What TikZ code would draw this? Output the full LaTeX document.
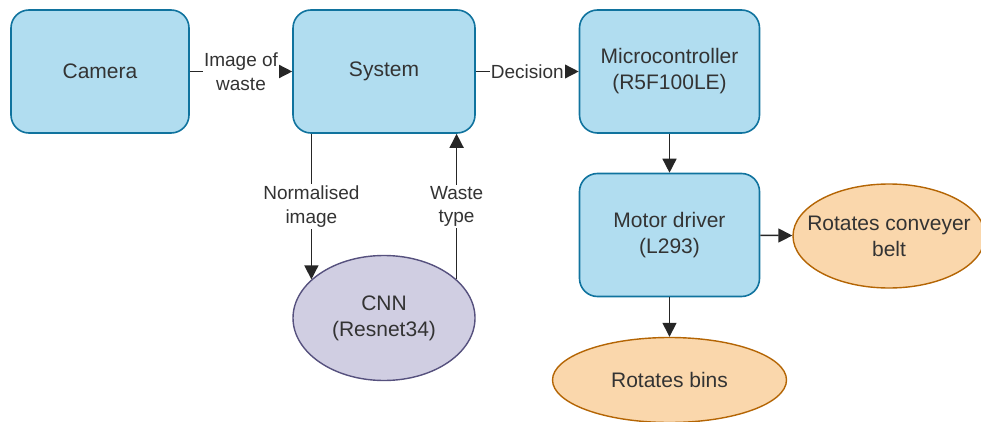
\documentclass[tikz,border=0pt]{standalone}
\usepackage{fontspec}
\setmainfont{Liberation Sans}
\usetikzlibrary{shapes.geometric,arrows.meta,calc}
\definecolor{blockfill}{HTML}{B1DDF0}
\definecolor{blockline}{HTML}{10739E}
\definecolor{cnnfill}{HTML}{D0CEE2}
\definecolor{cnnline}{HTML}{56517E}
\definecolor{outfill}{HTML}{FAD7AC}
\definecolor{outline}{HTML}{B46504}
\definecolor{txt}{HTML}{333333}
\tikzset{
  block/.style={draw=blockline, fill=blockfill, line width=1.6pt, rounded corners=18pt,
    minimum width=178pt, minimum height=123pt, align=center, text=txt,
    font=\fontsize{21}{26}\selectfont},
  oval/.style={ellipse, line width=1.4pt, inner sep=0pt},
  ovaltext/.style={align=center, text=txt, inner sep=0pt,
    font=\fontsize{21}{26}\selectfont},
  link/.style={draw=black!85, line width=1.5pt, -{Triangle[length=14pt,width=14pt]}},
  tag/.style={fill=white, inner sep=1.5pt, align=center, text=txt,
    font=\fontsize{19}{23.5}\selectfont}
}
\begin{document}
\begin{tikzpicture}[x=1pt,y=-1pt]
\useasboundingbox (0,0) rectangle (981,422);

\node[block] (cam) at (100,71.5) {Camera};
\node[block, minimum width=182pt] (sys) at (384,71.5) {System};
\node[block, minimum width=180pt] (mcu) at (669.5,71.5) {Microcontroller\\(R5F100LE)};
\node[block, minimum width=180pt] (drv) at (669.5,235) {Motor driver\\(L293)};

\node[oval, draw=cnnline, fill=cnnfill, minimum width=182pt, minimum height=125pt,
  label={[ovaltext]center:CNN\\(Resnet34)}] (cnn) at (384,318) {};
\node[oval, draw=outline, fill=outfill, minimum width=192pt, minimum height=104pt,
  label={[ovaltext]center:Rotates conveyer\\belt}] (belt) at (889,236) {};
\node[oval, draw=outline, fill=outfill, minimum width=234pt, minimum height=85pt,
  label={[ovaltext]center:Rotates bins}] (bins) at (669.5,380) {};

\draw[link] (cam) -- node[tag] {Image of\\waste} (sys);
\draw[link] (sys) -- node[tag, inner sep=1pt] {Decision} (mcu);
\draw[link] (sys.south -| cnn.152) -- node[tag] {Normalised\\image} (cnn.152);
\draw[link] (cnn.28) -- node[tag] {Waste\\type} (sys.south -| cnn.28);
\draw[link] (mcu) -- (drv);
\draw[link] (drv) -- (belt);
\draw[link] (drv) -- (bins);
\end{tikzpicture}
\end{document}
